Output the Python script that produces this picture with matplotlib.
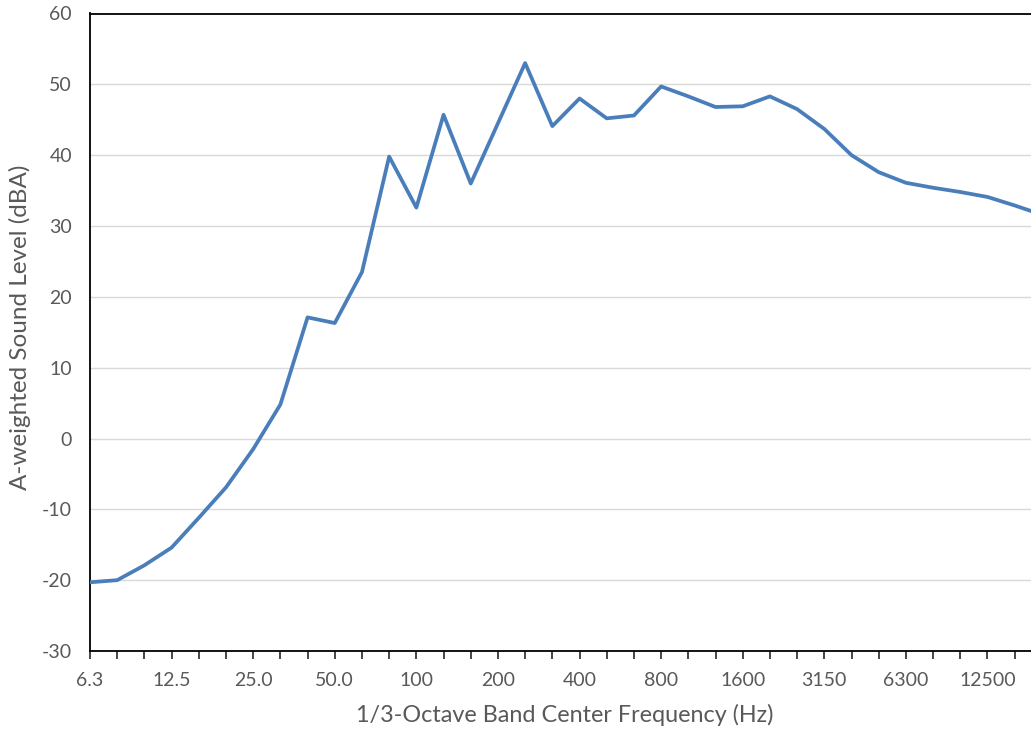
import matplotlib
matplotlib.use("Agg")
import matplotlib.pyplot as plt

# 1/3-octave band centres (Hz) and A-weighted levels (dBA)
bands = ["6.3", "8", "10", "12.5", "16", "20", "25.0", "31.5", "40", "50.0",
         "63", "80", "100", "125", "160", "200", "250", "315", "400", "500",
         "630", "800", "1000", "1250", "1600", "2000", "2500", "3150", "4000",
         "5000", "6300", "8000", "10000", "12500", "16000", "20000"]
levels = [-20.3, -20.0, -17.9, -15.4, -11.2, -6.9, -1.5, 4.8, 17.1, 16.3,
          23.5, 39.8, 32.6, 45.7, 36.0, 44.5, 53.0, 44.1, 48.0, 45.2,
          45.6, 49.7, 48.3, 46.8, 46.9, 48.3, 46.5, 43.7, 40.0, 37.6,
          36.1, 35.4, 34.8, 34.1, 32.9, 31.6]

text_color = "#595959"
plt.rcParams['font.family'] = ['Lato', 'DejaVu Sans']
plt.rcParams['axes.unicode_minus'] = False

fig = plt.figure(figsize=(10.31, 7.33), dpi=100)
ax = fig.add_axes([90/1031, 1 - 651/733, 1 - 90/1031, (651 - 13.5)/733])

x = list(range(len(bands)))
ax.plot(x, levels, color="#4A7EBB", linewidth=2.7, zorder=3)

ax.set_xticks(x)
ax.set_xticklabels([b if i % 3 == 0 else "" for i, b in enumerate(bands)])
ax.set_yticks(range(-30, 61, 10))
# limits after ticks, otherwise set_xticks widens the view to the last band
ax.set_xlim(0, 34.6)
ax.set_ylim(-30, 60)
ax.grid(axis="y", color="#D9D9D9", linewidth=1.0)
ax.set_axisbelow(True)

ax.tick_params(axis="x", direction="out", length=6, width=1.2, color="#262626",
               labelsize=14, labelcolor=text_color, pad=9)
ax.tick_params(axis="y", length=0, labelsize=14, labelcolor=text_color, pad=13)

for side in ["left", "bottom", "top"]:
    ax.spines[side].set_color("black")
    ax.spines[side].set_linewidth(1.3)
ax.spines["right"].set_visible(False)

ax.set_xlabel("1/3-Octave Band Center Frequency (Hz)", fontsize=16.8, color=text_color)
ax.xaxis.set_label_coords((565 - 90) / 941, -(715 - 651) / 637.5)
ax.set_ylabel("A-weighted Sound Level (dBA)", fontsize=17.5, color=text_color)
ax.yaxis.set_label_coords(-(90 - 20) / 941, (651 - 327) / 637.5)
ax.xaxis.label.set_va("center")
ax.yaxis.label.set_va("center")

fig.savefig("out.png", dpi=100)
